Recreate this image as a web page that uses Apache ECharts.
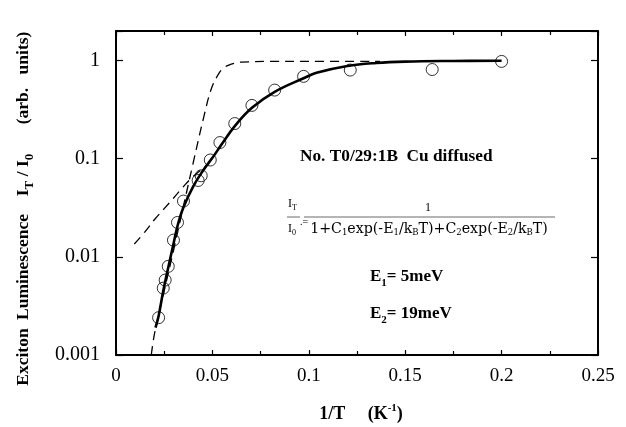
<!DOCTYPE html>
<html>
<head>
<meta charset="utf-8">
<script src="https://cdn.jsdelivr.net/npm/echarts@6/dist/echarts.min.js"></script>
<style>html,body{margin:0;padding:0;background:#fff}#c{width:626px;height:427px}</style>
</head>
<body>
<div id="c"></div>
<script>
// ---- data ----
const xTickLabels = ['0', '0.05', '0.1', '0.15', '0.2', '0.25'];
const yTickLabels = ['0.001', '0.01', '0.1', '1'];

// measured points (open circles)
const circleX = [0.0221, 0.0245, 0.0255, 0.0271, 0.0298, 0.0319, 0.035, 0.0426, 0.0442, 0.0489, 0.0539, 0.0616, 0.0705, 0.0823, 0.0973, 0.1215, 0.164, 0.2];
const circleY = [0.0024, 0.0048, 0.0058, 0.0080, 0.0148, 0.0224, 0.037, 0.060, 0.067, 0.097, 0.146, 0.228, 0.349, 0.50, 0.69, 0.80, 0.81, 0.98];

// solid fit curve
const fitX = [0.0205, 0.0221, 0.0245, 0.0271, 0.0298, 0.032, 0.035, 0.04, 0.045, 0.05, 0.055, 0.0616, 0.0705, 0.0823, 0.0973, 0.104, 0.12, 0.135, 0.15, 0.175, 0.2];
const fitY = [0.0019, 0.0025, 0.0045, 0.0078, 0.0135, 0.021, 0.032, 0.052, 0.075, 0.102, 0.142, 0.215, 0.33, 0.48, 0.66, 0.75, 0.88, 0.945, 0.975, 0.99, 0.995];

// steep dashed curve
const dashAX = [0.0183, 0.0201, 0.025, 0.03, 0.035, 0.04, 0.0456, 0.0495, 0.053, 0.0555, 0.0585, 0.062, 0.0655, 0.08, 0.1, 0.137];
const dashAY = [0.001, 0.0017, 0.0045, 0.012, 0.033, 0.09, 0.27, 0.52, 0.72, 0.83, 0.90, 0.945, 0.965, 0.98, 0.98, 0.98];

// shallow dashed curve
const dashBX = [0.0095, 0.015, 0.02, 0.025, 0.03, 0.035, 0.04, 0.047];
const dashBY = [0.0135, 0.018, 0.024, 0.031, 0.040, 0.052, 0.066, 0.085];

const zip = (a, b) => a.map((v, i) => [v, b[i]]);
const SERIF = '"Liberation Serif","DejaVu Serif",serif';
const WIDE = '"DejaVu Serif",serif';

function xFmt(v) {
  for (const l of xTickLabels) if (Math.abs(parseFloat(l) - v) < 1e-9) return l;
  return '';
}
function yFmt(v) {
  for (const l of yTickLabels) if (Math.abs(Math.log10(parseFloat(l)) - Math.log10(v)) < 1e-6) return l;
  return '';
}

const chart = echarts.init(document.getElementById('c'), null, {renderer: 'canvas'});

const baseX = {
  type: 'value', min: 0, max: 0.25, interval: 0.05,
  axisLine: {show: true, onZero: false, lineStyle: {color: '#000', width: 2}},
  axisTick: {show: true, inside: true, length: 5, lineStyle: {color: '#000', width: 1.2}},
  minorTick: {show: true, splitNumber: 2, length: 4, lineStyle: {color: '#000', width: 1.2}},
  splitLine: {show: false}, minorSplitLine: {show: false}
};
const baseY = {
  type: 'log', logBase: 10, min: 0.001, max: 2,
  axisLine: {show: true, onZero: false, lineStyle: {color: '#000', width: 2}},
  axisTick: {show: true, inside: true, length: 7, lineStyle: {color: '#000', width: 1.2}},
  minorTick: {show: false},
  splitLine: {show: false}
};

const boldRot = (txt, y) => ({
  type: 'text', x: 23, y: y, rotation: Math.PI / 2, z: 10,
  style: {
    text: txt, align: 'center', verticalAlign: 'middle',
    rich: {
      m: {fontFamily: SERIF, fontWeight: 'bold', fontSize: 17.5, fill: '#000', verticalAlign: 'middle', lineHeight: 26},
      s: {fontFamily: SERIF, fontWeight: 'bold', fontSize: 13, fill: '#000', verticalAlign: 'bottom', lineHeight: 26}
    }
  }
});

const option = {
  backgroundColor: '#fff',
  animation: false,
  grid: {left: 116, right: 28, top: 31, bottom: 72, containLabel: false},
  xAxis: [
    Object.assign({}, baseX, {
      position: 'bottom',
      axisLabel: {show: true, formatter: xFmt, fontFamily: SERIF, fontSize: 19, color: '#000', margin: 12, showMaxLabel: true, showMinLabel: true}
    }),
    Object.assign({}, baseX, {position: 'top', axisLabel: {show: false}})
  ],
  yAxis: [
    Object.assign({}, baseY, {
      position: 'left',
      axisLabel: {show: true, formatter: yFmt, fontFamily: SERIF, fontSize: 20, color: '#000', margin: 16}
    }),
    Object.assign({}, baseY, {position: 'right', axisLabel: {show: false}})
  ],
  series: [
    {type: 'line', data: zip(fitX, fitY), smooth: 0.4, showSymbol: false, symbol: 'none',
     lineStyle: {color: '#000', width: 2.6}, z: 3},
    {type: 'line', data: zip(dashAX, dashAY), smooth: 0.4, showSymbol: false, symbol: 'none',
     lineStyle: {color: '#000', width: 1.3, type: [9, 6]}, z: 2},
    {type: 'line', data: zip(dashBX, dashBY), smooth: 0.4, showSymbol: false, symbol: 'none',
     lineStyle: {color: '#000', width: 1.3, type: [9, 6]}, z: 2},
    {type: 'scatter', data: zip(circleX, circleY), symbol: 'circle', symbolSize: 12,
     itemStyle: {color: 'rgba(0,0,0,0)', borderColor: '#000', borderWidth: 1}, z: 4}
  ],
  graphic: [
    // y axis title, word by word
    boldRot('{m|Exciton}', 357),
    boldRot('{m|Luminescence}', 267),
    boldRot('{m|I}{s|T}{m| / I}{s|0}', 175),
    boldRot('{m|(arb.}', 106),
    boldRot('{m|units)}', 53),
    // x axis title
    {type: 'text', x: 361, y: 414, z: 10,
     style: {
       text: '{m|1/T     (K}{p|-1}{m|)}',
       align: 'center', verticalAlign: 'middle',
       rich: {
         m: {fontFamily: SERIF, fontWeight: 'bold', fontSize: 18, fill: '#000', verticalAlign: 'middle', lineHeight: 22},
         p: {fontFamily: SERIF, fontWeight: 'bold', fontSize: 11, fill: '#000', verticalAlign: 'top', lineHeight: 22}
       }
     }},
    // sample label
    {type: 'text', x: 300, y: 157, z: 10,
     style: {text: 'No. T0/29:1B  Cu diffused', fontFamily: SERIF, fontWeight: 'bold', fontSize: 17.3, fill: '#000', verticalAlign: 'middle'}},
    // formula: left fraction
    {type: 'text', x: 288, y: 204, z: 10,
     style: {text: '{m|I}{s|T}', verticalAlign: 'middle',
       rich: {m: {fontFamily: SERIF, fontSize: 12, fill: '#000', verticalAlign: 'middle', lineHeight: 16},
              s: {fontFamily: SERIF, fontSize: 8, fill: '#000', verticalAlign: 'bottom', lineHeight: 16}}}},
    {type: 'text', x: 288, y: 229, z: 10,
     style: {text: '{m|I}{s|0}', verticalAlign: 'middle',
       rich: {m: {fontFamily: SERIF, fontSize: 12, fill: '#000', verticalAlign: 'middle', lineHeight: 16},
              s: {fontFamily: SERIF, fontSize: 8, fill: '#000', verticalAlign: 'bottom', lineHeight: 16}}}},
    {type: 'line', z: 10, shape: {x1: 287, y1: 217, x2: 300, y2: 217}, style: {stroke: '#444', lineWidth: 0.8}},
    {type: 'text', x: 300, y: 222, z: 10,
     style: {text: '.=', fontFamily: SERIF, fontSize: 10, fill: '#000', verticalAlign: 'middle'}},
    // formula: right fraction
    {type: 'text', x: 428, y: 208, z: 10,
     style: {text: '1', fontFamily: SERIF, fontSize: 12, fill: '#000', align: 'center', verticalAlign: 'middle'}},
    {type: 'line', z: 10, shape: {x1: 304, y1: 217, x2: 555, y2: 217}, style: {stroke: '#444', lineWidth: 0.8}},
    {type: 'text', x: 429, y: 229, z: 10,
     style: {
       text: '{m|1+C}{s|1}{m|exp(-E}{s|1}{m|/k}{s|B}{m|T)+C}{s|2}{m|exp(-E}{s|2}{m|/k}{s|B}{m|T)}',
       align: 'center', verticalAlign: 'middle',
       rich: {m: {fontFamily: WIDE, fontSize: 14.2, fill: '#000', verticalAlign: 'middle', lineHeight: 17},
              s: {fontFamily: WIDE, fontSize: 8.5, fill: '#000', verticalAlign: 'bottom', lineHeight: 17}}
     }},
    // energies
    {type: 'text', x: 370, y: 277, z: 10,
     style: {text: '{m|E}{s|1}{m|= 5meV}', verticalAlign: 'middle',
       rich: {m: {fontFamily: SERIF, fontWeight: 'bold', fontSize: 17, fill: '#000', verticalAlign: 'middle', lineHeight: 24},
              s: {fontFamily: SERIF, fontWeight: 'bold', fontSize: 11, fill: '#000', verticalAlign: 'bottom', lineHeight: 24}}}},
    {type: 'text', x: 370, y: 314, z: 10,
     style: {text: '{m|E}{s|2}{m|= 19meV}', verticalAlign: 'middle',
       rich: {m: {fontFamily: SERIF, fontWeight: 'bold', fontSize: 17, fill: '#000', verticalAlign: 'middle', lineHeight: 24},
              s: {fontFamily: SERIF, fontWeight: 'bold', fontSize: 11, fill: '#000', verticalAlign: 'bottom', lineHeight: 24}}}}
  ]
};
chart.setOption(option);
</script>
</body>
</html>
